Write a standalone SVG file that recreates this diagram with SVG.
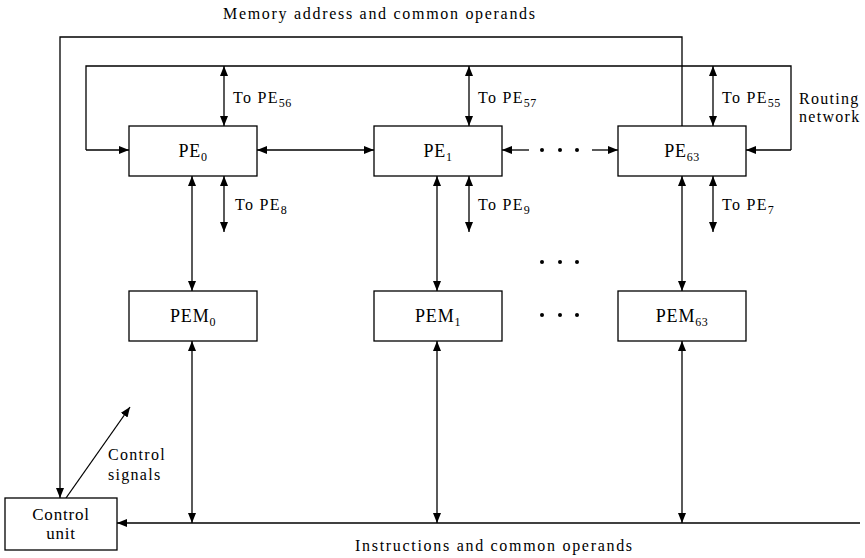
<svg xmlns="http://www.w3.org/2000/svg" width="865" height="558" viewBox="0 0 865 558">
<style>
text{font-family:"Liberation Serif","Times New Roman",serif;fill:#000}
.lbl{font-size:16px;letter-spacing:1.3px}
.cap{font-size:16px;letter-spacing:1.7px}
.node{font-size:18px;letter-spacing:0.8px;text-anchor:middle}
.sub{font-size:12px;letter-spacing:0.5px}
.box{fill:#fff;stroke:#000;stroke-width:1.3}
.ln{fill:none;stroke:#000;stroke-width:1.3}
.dot{fill:#000}
</style>
<defs>
<marker id="ah" viewBox="0 0 10 8" refX="10" refY="4" markerWidth="10" markerHeight="8" markerUnits="userSpaceOnUse" orient="auto-start-reverse">
<path d="M0,0 L10,4 L0,8 Z" fill="#000"/>
</marker>
</defs>

<g id="connectors">
<path class="ln" d="M682,126 V37 H60 V498" marker-end="url(#ah)"/>
<path class="ln" d="M86,150 V66 H791 V150"/>
<path class="ln" d="M86,150 H129" marker-end="url(#ah)"/>
<path class="ln" d="M791,150 H746" marker-end="url(#ah)"/>
<path class="ln" d="M224,66 V126" marker-start="url(#ah)" marker-end="url(#ah)"/>
<path class="ln" d="M469,66 V126" marker-start="url(#ah)" marker-end="url(#ah)"/>
<path class="ln" d="M713,66 V126" marker-start="url(#ah)" marker-end="url(#ah)"/>
<path class="ln" d="M257,150 H374" marker-start="url(#ah)" marker-end="url(#ah)"/>
<path class="ln" d="M529,150 H502" marker-end="url(#ah)"/>
<path class="ln" d="M592,150 H618" marker-end="url(#ah)"/>
<path class="ln" d="M224,176 V232" marker-start="url(#ah)" marker-end="url(#ah)"/>
<path class="ln" d="M469,176 V232" marker-start="url(#ah)" marker-end="url(#ah)"/>
<path class="ln" d="M713,176 V232" marker-start="url(#ah)" marker-end="url(#ah)"/>
<path class="ln" d="M192,176 V291" marker-start="url(#ah)" marker-end="url(#ah)"/>
<path class="ln" d="M437,176 V291" marker-start="url(#ah)" marker-end="url(#ah)"/>
<path class="ln" d="M682,176 V291" marker-start="url(#ah)" marker-end="url(#ah)"/>
<path class="ln" d="M192,341 V523" marker-start="url(#ah)" marker-end="url(#ah)"/>
<path class="ln" d="M437,341 V523" marker-start="url(#ah)" marker-end="url(#ah)"/>
<path class="ln" d="M682,341 V523" marker-start="url(#ah)" marker-end="url(#ah)"/>
<path class="ln" d="M860,523 H117" marker-end="url(#ah)"/>
<path class="ln" d="M66,498 L130,407" marker-end="url(#ah)"/>
</g>

<g id="dots">
<circle class="dot" cx="542" cy="150" r="2"/><circle class="dot" cx="560" cy="150" r="2"/><circle class="dot" cx="577" cy="150" r="2"/>
<circle class="dot" cx="542" cy="262" r="2"/><circle class="dot" cx="560" cy="262" r="2"/><circle class="dot" cx="577" cy="262" r="2"/>
<circle class="dot" cx="542" cy="315" r="2"/><circle class="dot" cx="560" cy="315" r="2"/><circle class="dot" cx="577" cy="315" r="2"/>
</g>

<g id="PE0"><rect class="box" x="129" y="126" width="128" height="50"/><text class="node" x="193" y="157">PE<tspan class="sub" dy="4">0</tspan></text></g>
<g id="PE1"><rect class="box" x="374" y="126" width="128" height="50"/><text class="node" x="438" y="157">PE<tspan class="sub" dy="4">1</tspan></text></g>
<g id="PE63"><rect class="box" x="618" y="126" width="128" height="50"/><text class="node" x="682" y="157">PE<tspan class="sub" dy="4">63</tspan></text></g>

<g id="PEM0"><rect class="box" x="129" y="291" width="128" height="50"/><text class="node" x="193" y="322">PEM<tspan class="sub" dy="4">0</tspan></text></g>
<g id="PEM1"><rect class="box" x="374" y="291" width="128" height="50"/><text class="node" x="438" y="322">PEM<tspan class="sub" dy="4">1</tspan></text></g>
<g id="PEM63"><rect class="box" x="618" y="291" width="128" height="50"/><text class="node" x="682" y="322">PEM<tspan class="sub" dy="4">63</tspan></text></g>

<g id="control-unit"><rect class="box" x="5" y="498" width="112" height="52"/>
<text class="node" style="font-size:17px" x="61" y="520">Control</text><text class="node" style="font-size:17px" x="61" y="539">unit</text></g>

<g id="labels">
<text class="cap" x="223" y="19">Memory address and common operands</text>
<text class="cap" x="355" y="551">Instructions and common operands</text>
<text class="lbl" x="233" y="103">To PE<tspan class="sub" dy="4">56</tspan></text>
<text class="lbl" x="478" y="103">To PE<tspan class="sub" dy="4">57</tspan></text>
<text class="lbl" x="722" y="103">To PE<tspan class="sub" dy="4">55</tspan></text>
<text class="lbl" x="235" y="210">To PE<tspan class="sub" dy="4">8</tspan></text>
<text class="lbl" x="478" y="210">To PE<tspan class="sub" dy="4">9</tspan></text>
<text class="lbl" x="722" y="210">To PE<tspan class="sub" dy="4">7</tspan></text>
<text class="lbl" x="799" y="104">Routing</text>
<text class="lbl" x="799" y="122">network</text>
<text class="lbl" x="108" y="460">Control</text>
<text class="lbl" x="108" y="480">signals</text>
</g>
</svg>
